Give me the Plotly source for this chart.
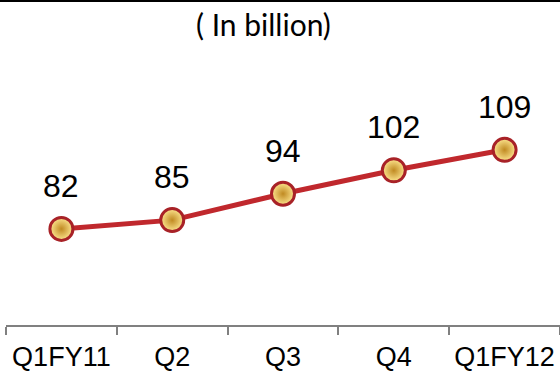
import plotly.graph_objects as go

categories = ["Q1FY11", "Q2", "Q3", "Q4", "Q1FY12"]
values = [82, 85, 94, 102, 109]
title_text = "( In billion)"

fig = go.Figure()
fig.add_trace(go.Scatter(
    x=categories, y=values, mode="lines+markers",
    line=dict(color="#c0282d", width=5),
    marker=dict(size=23, color="#fde58f",
                gradient=dict(type="radial", color="#c08a22"),
                line=dict(color="#a82227", width=3)),
    hoverinfo="skip", showlegend=False,
))
for c, v in zip(categories, values):
    fig.add_annotation(x=c, y=v, text=str(v), showarrow=False, yshift=43,
                       font=dict(family="Liberation Sans, Arial", size=32, color="#000"))

fig.add_annotation(xref="paper", yref="paper", x=(263.5 - 6) / 554, y=1 + (30 - 24) / 295,
                   text=title_text, showarrow=False, xanchor="center", yanchor="middle",
                   font=dict(family="Lato, Open Sans", size=30, color="#000"))

fig.add_shape(type="line", xref="paper", yref="paper",
              x0=-6 / 554, x1=1.01, y0=1 + (30 - 1) / 295, y1=1 + (30 - 1) / 295,
              line=dict(color="#000", width=2))

fig.update_layout(
    width=560, height=372,
    margin=dict(l=6, r=0, t=30, b=47, autoexpand=False),
    paper_bgcolor="white", plot_bgcolor="white",
    xaxis=dict(type="category", range=[-0.5, 4.5], tickson="boundaries",
               ticks="outside", ticklen=8, tickcolor="#808080", tickwidth=1.5,
               showline=True, linecolor="#808080", linewidth=1.5,
               showgrid=False, zeroline=False, ticklabelstandoff=7,
               tickangle=0, automargin=False,
               tickfont=dict(family="Liberation Sans, Arial", size=27, color="#000")),
    yaxis=dict(range=[49.2, 149.9], visible=False, showgrid=False, zeroline=False,
               automargin=False),
)
fig.write_html("out.html")
